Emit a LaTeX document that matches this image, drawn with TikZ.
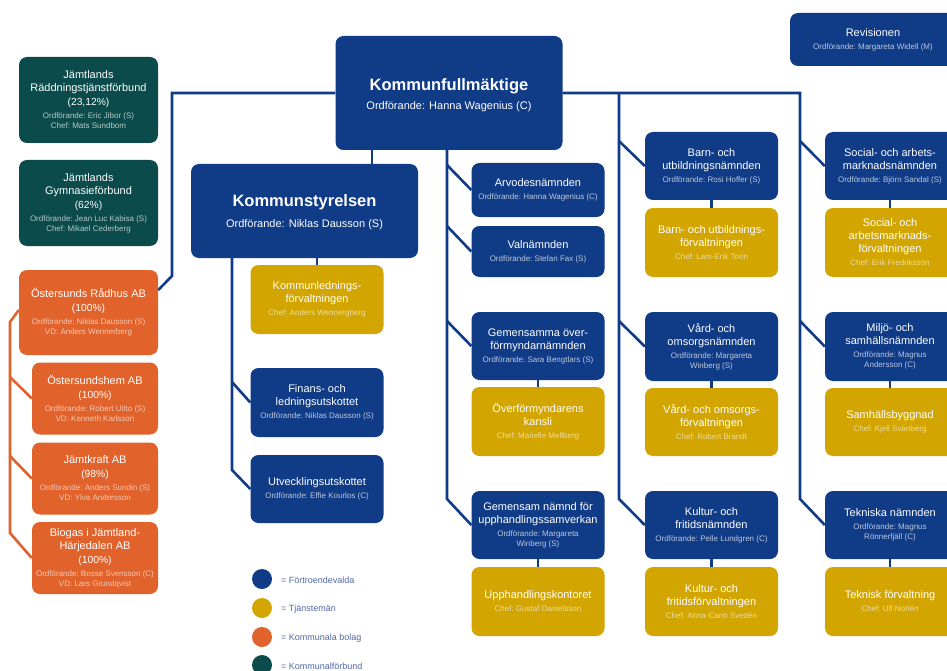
\documentclass[tikz,border=0pt]{standalone}
\usepackage{fontspec}
\setmainfont{Liberation Sans}
\usetikzlibrary{backgrounds}
\definecolor{navy}{RGB}{16,59,135}
\definecolor{gold}{RGB}{210,165,0}
\definecolor{orng}{RGB}{226,98,43}
\definecolor{dteal}{RGB}{11,75,76}
\definecolor{legtxt}{RGB}{80,105,165}
\newcommand\fixsp{\spaceskip=0pt\xspaceskip=0pt\frenchspacing}
\newcommand\bt[1]{{\fontsize{11}{13}\selectfont\fixsp #1\par}}
\newcommand\bp[1]{{\vspace{1pt}\fontsize{10.3}{13}\selectfont\fixsp #1\par}}
\newcommand\bs[1]{{\vspace{3pt}\fontsize{8}{10}\selectfont\fixsp\leavevmode\color{subcol}#1\par}}
\tikzset{
  orgbox/.style={rounded corners=8pt, text=white, align=flush center, inner sep=2pt, text width=129pt},
  nvbox/.style={orgbox, fill=navy, execute at begin node={\colorlet{subcol}{white!72!navy}}},
  gdbox/.style={orgbox, fill=gold, execute at begin node={\colorlet{subcol}{white!62!gold}}},
  orbox/.style={orgbox, fill=orng, execute at begin node={\colorlet{subcol}{white!65!orng}}},
  tlbox/.style={orgbox, fill=dteal, execute at begin node={\colorlet{subcol}{white!70!dteal}}},
  nline/.style={draw=navy, line width=2.6pt},
  oline/.style={draw=orng, line width=2.6pt},
  lgd/.style={circle, minimum size=20pt, inner sep=0pt},
  lgdtxt/.style={anchor=west, text=legtxt, font=\fontsize{9}{11}\selectfont, inner sep=0pt}
}
\begin{document}
\begin{tikzpicture}[x=1pt, y=-1pt]
\path[use as bounding box] (0,0) rectangle (947,671);
\clip (0,0) rectangle (947,671);

% --- Kommunalförbund ---
\node[tlbox, text width=135pt, minimum height=86pt] (rtf) at (88.5,100)
  {\bt{Jämtlands\\Räddningstjänstförbund}\bp{(23,12\%)}\bs{Ordförande: Eric Jibor (S)\\Chef: Mats Sundbom}};
\node[tlbox, text width=135pt, minimum height=86pt] (gym) at (88.5,203)
  {\bt{Jämtlands\\Gymnasieförbund}\bp{(62\%)}\bs{Ordförande: Jean Luc Kabisa (S)\\Chef: Mikael Cederberg}};

% --- Kommunala bolag ---
\node[orbox, text width=135pt, minimum height=85pt] (radhus) at (88.5,312.5)
  {\bt{Östersunds Rådhus AB}\bp{(100\%)}\bs{Ordförande: Niklas Dausson (S)\\VD: Anders Wennerberg}};
\node[orbox, text width=122pt, minimum height=72pt] (osthem) at (95,398.5)
  {\bt{Östersundshem AB}\bp{(100\%)}\bs{Ordförande: Robert Uitto (S)\\VD: Kenneth Karlsson}};
\node[orbox, text width=122pt, minimum height=72pt] (jamt) at (95,478.5)
  {\bt{Jämtkraft AB}\bp{(98\%)}\bs{Ordförande: Anders Sundin (S)\\VD: Ylva Andersson}};
\node[orbox, text width=122pt, minimum height=72pt] (biogas) at (95,558)
  {\bt{Biogas i Jämtland-\\Härjedalen AB}\bp{(100\%)}\bs{Ordförande: Bosse Svensson (C)\\VD: Lars Grundqvist}};

% --- Kommunfullmäktige & Kommunstyrelsen ---
\node[nvbox, text width=223pt, minimum height=114pt] (kf) at (449,93) {};
\node[text=white, anchor=base, inner sep=0pt, font=\fontsize{16.5}{20}\selectfont\bfseries] (kft) at (449,91) {Kommunfullmäktige};
\node[text=white, anchor=base, inner sep=0pt, font=\fontsize{11}{13}\selectfont] (kfs) at (449,110) {Ordförande: Hanna Wagenius (C)};

\node[nvbox, text width=223pt, minimum height=94pt] (ks) at (304.5,211) {};
\node[text=white, anchor=base, inner sep=0pt, font=\fontsize{16.5}{20}\selectfont\bfseries] (kst) at (304.5,207) {Kommunstyrelsen};
\node[text=white, anchor=base, inner sep=0pt, font=\fontsize{11}{13}\selectfont] (kss) at (304.5,227) {Ordförande: Niklas Dausson (S)};

\node[gdbox, minimum height=69pt] (klf) at (317,299.5)
  {\bt{Kommunlednings-\\förvaltningen}\bs{Chef: Anders Wennergberg}};
\node[nvbox, minimum height=69pt] (fin) at (317,402.5)
  {\bt{Finans- och\\ledningsutskottet}\bs{Ordförande: Niklas Dausson (S)}};
\node[nvbox, minimum height=68pt] (utv) at (317,489)
  {\bt{Utvecklingsutskottet}\bs{Ordförande: Effie Kourlos (C)}};

% --- column 2 ---
\node[nvbox, minimum height=54pt] (arv) at (538,190)
  {\bt{Arvodesnämnden}\bs{Ordförande: Hanna Wagenius (C)}};
\node[nvbox, minimum height=51pt] (val) at (538,251.5)
  {\bt{Valnämnden}\bs{Ordförande: Stefan Fax (S)}};
\node[nvbox, minimum height=68pt] (gof) at (538,346)
  {\bt{Gemensamma över-\\förmyndarnämnden}\bs{Ordförande: Sara Bengtlars (S)}};
\node[gdbox, minimum height=69pt] (ofk) at (538,421.5)
  {\bt{Överförmyndarens\\kansli}\bs{Chef: Marielle Mellberg}};
\node[nvbox, minimum height=68pt] (gnu) at (538,525)
  {\bt{Gemensam nämnd för\\upphandlingssamverkan}\bs{Ordförande: Margareta\\Winberg (S)}};
\node[gdbox, minimum height=69pt] (upk) at (538,601.5)
  {\bt{Upphandlingskontoret}\bs{Chef: Gustaf Danielsson}};

% --- column 3 ---
\node[nvbox, minimum height=68pt] (bun) at (711.5,166)
  {\bt{Barn- och\\utbildningsnämnden}\bs{Ordförande: Rosi Hoffer (S)}};
\node[gdbox, minimum height=69pt] (buf) at (711.5,242.5)
  {\bt{Barn- och utbildnings-\\förvaltningen}\bs{Chef: Lars-Erik Torin}};
\node[nvbox, minimum height=69pt] (von) at (711.5,346.5)
  {\bt{Vård- och\\omsorgsnämnden}\bs{Ordförande: Margareta\\Winberg (S)}};
\node[gdbox, minimum height=68pt] (vof) at (711.5,422)
  {\bt{Vård- och omsorgs-\\förvaltningen}\bs{Chef: Robert Brandt}};
\node[nvbox, minimum height=68pt] (kfn) at (711.5,525)
  {\bt{Kultur- och\\fritidsnämnden}\bs{Ordförande: Pelle Lundgren (C)}};
\node[gdbox, minimum height=69pt] (kff) at (711.5,601.5)
  {\bt{Kultur- och\\fritidsförvaltningen}\bs{Chef: Anna-Carin Svedén}};

% --- column 4 ---
\node[nvbox, text width=162pt, minimum height=53pt] (rev) at (873,39.5)
  {\bt{Revisionen}\bs{Ordförande: Margareta Widell (M)}};
\node[nvbox, text width=126pt, minimum height=68pt] (san) at (890,166)
  {\bt{Social- och arbets-\\marknadsnämnden}\bs{Ordförande: Björn Sandal (S)}};
\node[gdbox, text width=126pt, minimum height=69pt] (saf) at (890,242.5)
  {\bt{Social- och\\arbetsmarknads-\\förvaltningen}\bs{Chef: Erik Fredriksson}};
\node[nvbox, text width=126pt, minimum height=69pt] (msn) at (890,346.5)
  {\bt{Miljö- och\\samhällsnämnden}\bs{Ordförande: Magnus\\Andersson (C)}};
\node[gdbox, text width=126pt, minimum height=68pt] (shb) at (890,422)
  {\bt{Samhällsbyggnad}\bs{Chef: Kjell Svanberg}};
\node[nvbox, text width=126pt, minimum height=68pt] (tek) at (890,525)
  {\bt{Tekniska nämnden}\bs{Ordförande: Magnus\\Rönnerfjäll (C)}};
\node[gdbox, text width=126pt, minimum height=69pt] (tef) at (890,601.5)
  {\bt{Teknisk förvaltning}\bs{Chef: Ulf Norlén}};

% --- legend ---
\node[lgd, fill=navy] (l1) at (262,579) {};
\node[lgd, fill=gold] (l2) at (262,608) {};
\node[lgd, fill=orng] (l3) at (262,637) {};
\node[lgd, fill=dteal] (l4) at (262,665) {};
\node[lgdtxt] (l1t) at (281,580) {= Förtroendevalda};
\node[lgdtxt] (l2t) at (281,609) {= Tjänstemän};
\node[lgdtxt] (l3t) at (281,638) {= Kommunala bolag};
\node[lgdtxt] (l4t) at (281,666) {= Kommunalförbund};

% --- connectors ---
\begin{scope}[on background layer]
  \fill[white] (0,0) rectangle (947,671);
  \coordinate (jl) at (172,93);
  \coordinate (jr) at (800,93);
  \coordinate (c3) at (619,93);
  % left to Rådhus
  \draw[nline] (kf.west) -- (jl) -- (172,276) -- (radhus.east |- 0,290);
  % right
  \draw[nline] (kf.east) -- (jr) -- (800,499) -- (tek.west);
  \draw[nline] (800,141) -- (san.west);
  \draw[nline] (800,321) -- (msn.west);
  % column 3
  \draw[nline] (c3) -- (619,499) -- (kfn.west);
  \draw[nline] (619,141) -- (bun.west);
  \draw[nline] (619,321) -- (von.west);
  % column 2
  \draw[nline] (kf.south -| 447,0) -- (447,499) -- (gnu.west);
  \draw[nline] (447,165) -- (arv.west);
  \draw[nline] (447,226) -- (val.west);
  \draw[nline] (447,321) -- (gof.west);
  % KF - KS
  \draw[nline] (kf.south -| 372,0) -- (ks.north -| 372,0);
  % KS branches
  \draw[nline] (ks.south -| klf.north) -- (klf.north);
  \draw[nline] (ks.south -| 232,0) -- (232,470) -- (utv.west);
  \draw[nline] (232,382) -- (fin.west);
  % nämnd - förvaltning
  \foreach \a/\b in {gof/ofk, gnu/upk, bun/buf, von/vof, kfn/kff, san/saf, msn/shb, tek/tef}
    \draw[nline] (\a.south) -- (\b.north);
  % bolag
  \draw[oline] (radhus.west |- 0,310) -- (10,322) -- (10,533) -- (biogas.west);
  \draw[oline] (10,377) -- (osthem.west);
  \draw[oline] (10,456) -- (jamt.west);
\end{scope}
\end{tikzpicture}
\end{document}
